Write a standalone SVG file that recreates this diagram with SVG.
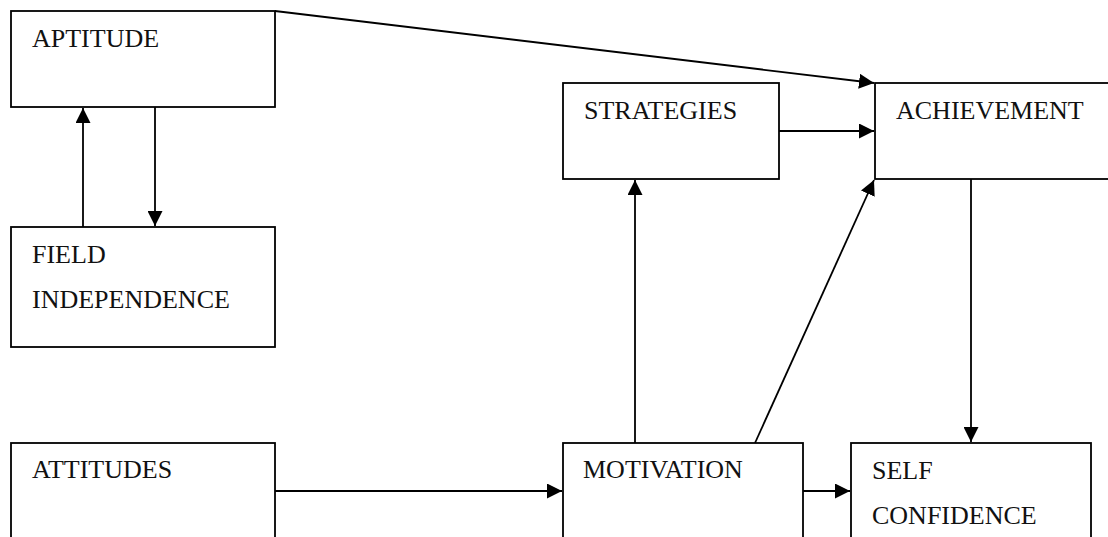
<svg xmlns="http://www.w3.org/2000/svg" width="1108" height="537" viewBox="0 0 1108 537">
  <style>
    .box { fill: #fff; stroke: #000; stroke-width: 1.8; }
    .lbl { font-family: "Liberation Serif", "Times New Roman", serif; font-size: 26px; fill: #111; }
    .edge { fill: none; stroke: #000; stroke-width: 1.8; }
  </style>
  <defs>
    <marker id="arrow" markerUnits="userSpaceOnUse" markerWidth="16" markerHeight="15" refX="15" refY="7.5" orient="auto">
      <path d="M0,0 L15,7.5 L0,15 z" fill="#000"/>
    </marker>
  </defs>
  <rect width="1108" height="537" fill="#fff"/>

  <g id="aptitude">
    <rect class="box" x="11" y="11" width="264" height="96"/>
    <text class="lbl" x="32" y="47">APTITUDE</text>
  </g>
  <g id="field-independence">
    <rect class="box" x="11" y="227" width="264" height="120"/>
    <text class="lbl" x="32" y="263">FIELD</text>
    <text class="lbl" x="32" y="308">INDEPENDENCE</text>
  </g>
  <g id="strategies">
    <rect class="box" x="563" y="83" width="216" height="96"/>
    <text class="lbl" x="584" y="119">STRATEGIES</text>
  </g>
  <g id="achievement">
    <rect class="box" x="875" y="83" width="250" height="96"/>
    <text class="lbl" x="896" y="119">ACHIEVEMENT</text>
  </g>
  <g id="attitudes">
    <rect class="box" x="11" y="443" width="264" height="110"/>
    <text class="lbl" x="32" y="478">ATTITUDES</text>
  </g>
  <g id="motivation">
    <rect class="box" x="563" y="443" width="240" height="110"/>
    <text class="lbl" x="583" y="478">MOTIVATION</text>
  </g>
  <g id="self-confidence">
    <rect class="box" x="851" y="443" width="240" height="110"/>
    <text class="lbl" x="872" y="479">SELF</text>
    <text class="lbl" x="872" y="524">CONFIDENCE</text>
  </g>

  <g id="connectors">
    <line class="edge" x1="83" y1="227" x2="83" y2="108" marker-end="url(#arrow)"/>
    <line class="edge" x1="155" y1="107" x2="155" y2="226" marker-end="url(#arrow)"/>
    <line class="edge" x1="275" y1="11" x2="874" y2="83" marker-end="url(#arrow)"/>
    <line class="edge" x1="779" y1="131" x2="874" y2="131" marker-end="url(#arrow)"/>
    <line class="edge" x1="971" y1="179" x2="971" y2="442" marker-end="url(#arrow)"/>
    <line class="edge" x1="275" y1="491" x2="562" y2="491" marker-end="url(#arrow)"/>
    <line class="edge" x1="803" y1="491" x2="850" y2="491" marker-end="url(#arrow)"/>
    <line class="edge" x1="635" y1="443" x2="635" y2="180" marker-end="url(#arrow)"/>
    <line class="edge" x1="755" y1="443" x2="874" y2="180" marker-end="url(#arrow)"/>
  </g>
</svg>
